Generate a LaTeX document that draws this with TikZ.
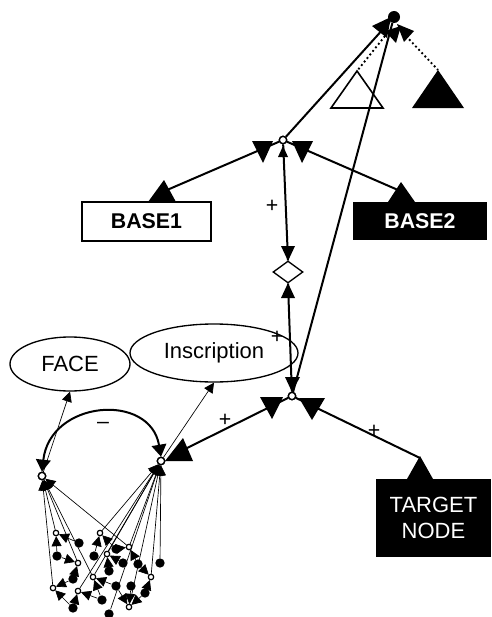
\documentclass[tikz,border=0pt]{standalone}
\usepackage{fontspec}
\setmainfont{Liberation Sans}
\usetikzlibrary{arrows.meta,shapes.geometric}
\begin{document}
\begin{tikzpicture}[x=0.75pt,y=-0.75pt,
  thickline/.style={line width=1.5pt},
  thinline/.style={line width=0.5pt},
  onode/.style={circle,draw,fill=white,line width=1pt,inner sep=0pt,minimum size=5.5pt},
  conode/.style={circle,draw,fill=white,line width=0.8pt,inner sep=0pt,minimum size=4pt},
  fnode/.style={circle,fill=black,inner sep=0pt,minimum size=7pt},
  sarr/.style={thinline,-{Triangle[length=7.5pt,width=7.5pt]}},
  lbl/.style={font=\fontsize{16}{18}\selectfont,inner sep=0pt},
  txt/.style={font=\fontsize{16.5}{20}\selectfont},
  btxt/.style={font=\bfseries\fontsize{16}{19}\selectfont},
]
\useasboundingbox (0,0) rectangle (492,617);

% main nodes
\node[circle,fill=black,inner sep=0pt,minimum size=9pt] (T) at (394,17) {};
\node[onode] (M) at (283,140) {};
\node[onode] (L) at (292,396) {};
\node[diamond,draw,fill=white,line width=1pt,inner sep=0pt,minimum width=22.5pt,minimum height=16.5pt] (D) at (288,272) {};
\node[draw,line width=1.2pt,minimum width=96.75pt,minimum height=29.25pt,btxt] (B1) at (146.5,221.5) {BASE1};
\node[fill=black,text=white,minimum width=100.5pt,minimum height=28.5pt,btxt] (B2) at (420,221) {BASE2};
\node[fill=black,text=white,minimum width=86.25pt,minimum height=58.5pt,align=center,txt] (TN) at (433.5,518) {TARGET\\NODE};
\node[ellipse,draw,line width=1pt,minimum width=90pt,minimum height=40.5pt,txt,inner sep=0pt] (F) at (70,364) {FACE};
\node[ellipse,draw,line width=1pt,minimum width=126pt,minimum height=43.5pt,txt,inner sep=0pt] (I) at (214,353) {Inscription};
\node[onode] (N1) at (42,476) {};
\node[onode] (N2) at (161,461) {};

% tips
\coordinate (OT) at (357,71);
\coordinate (FT) at (438,70);
\coordinate (b1tip) at (167,190);
\coordinate (b2tip) at (398,190);
\coordinate (tntip) at (420,458);
\coordinate (n2tip) at (185,449);
\coordinate (Tl) at (385,36);
\coordinate (Tr) at (406,36);

% triangles (open and filled)
\draw[line width=1.2pt] (OT) -- (331,108) -- (383,108) -- cycle;
\fill (FT) -- (412,108) -- (464,108) -- cycle;

% connectors
\draw[dotted,line width=1.4pt] (Tl) -- (OT);
\draw[dotted,line width=1.4pt] (Tr) -- (FT);
\draw[thickline] (M) -- (T);
\draw[thickline] (L) -- (T);
\draw[thickline] (M) -- (b1tip);
\draw[thickline] (M) -- (b2tip);
\draw[thickline] (M) -- (D.north);
\draw[thickline] (D.south) -- (L);
\draw[thickline] (L) -- (tntip);
\draw[thickline] (L) -- (n2tip);

% arc between N1 and N2
\draw[thickline,{Triangle[length=9pt,width=11pt]}-{Triangle[length=9pt,width=11pt]}]
  (N1.north) .. controls (50,400) and (150,392) .. (N2.north);
\draw[sarr] (N1) -- (F.south);
\draw[sarr] (N2) -- (I.south);

% big arrowheads
\fill (372,26) -- (391,17) -- (387,38) -- cycle;
\fill (385,31) -- (401,26) -- (396,43) -- cycle;
\fill (397,24) -- (414,31) -- (404,42) -- cycle;
\fill (252,141) -- (273,141) -- (263,163) -- cycle;
\fill (292,141) -- (313,141) -- (302,163) -- cycle;
\fill (283,146) -- (278,157) -- (288,157) -- cycle;
\fill (164,180) -- (148,202) -- (176,202) -- cycle;
\fill (401,182) -- (388,202) -- (415,202) -- cycle;
\fill (281,246) -- (295,246) -- (288,261) -- cycle;
\fill (288,283) -- (281,298) -- (295,298) -- cycle;
\fill (285,377) -- (300,377) -- (292,392) -- cycle;
\fill (260,397) -- (283,397) -- (272,419) -- cycle;
\fill (299,398) -- (325,398) -- (312,420) -- cycle;
\fill (420,456) -- (407,479) -- (433,479) -- cycle;
\fill (165,461) -- (183,438) -- (193,461) -- cycle;

% labels
\node[lbl] (p1) at (272,206) {+};
\node[lbl] (p2) at (277,337) {+};
\node[lbl] (p3) at (225,420) {+};
\node[lbl] (p4) at (374,431) {+};
\node[lbl] (m1) at (103,425) {–};

% cluster nodes
\node[conode] (a) at (56,533) {};
\node[conode] (b) at (100,533) {};
\node[conode] (c) at (78,563) {};
\node[conode] (d) at (107,554) {};
\node[conode] (e) at (129,547) {};
\node[conode] (f) at (93,577) {};
\node[conode] (g) at (151,577) {};
\node[conode] (h) at (53,588) {};
\node[conode] (i) at (78,591) {};
\node[conode] (j) at (129,607) {};
\node[fnode] (F1) at (79,543) {};
\node[fnode] (F2) at (57,556) {};
\node[fnode] (F3) at (94,556) {};
\node[fnode] (F4) at (116,549) {};
\node[fnode] (F5) at (123,563) {};
\node[fnode] (F6) at (138,564) {};
\node[fnode] (F7) at (160,563) {};
\node[fnode] (F8) at (109,571) {};
\node[fnode] (F9) at (73,579) {};
\node[fnode] (F10) at (116,586) {};
\node[fnode] (F11) at (131,586) {};
\node[fnode] (F12) at (145,593) {};
\node[fnode] (F13) at (102,600) {};
\node[fnode] (F14) at (73,608) {};
\node[fnode] (F15) at (109,614) {};

% fan lines
\foreach \t in {h,a,c,f,e} \draw[sarr] (\t) -- (N1);
\foreach \t in {b,d,f,i,e,j,g,F7,F15} \draw[sarr] (\t) -- (N2);

% cluster edges
\foreach \s/\t in {F1/a,F2/a,F9/c,F2/c,F3/b,F4/b,F8/d,F5/d,F6/e,F4/e,F13/f,F10/f,F12/g,F6/g,F9/h,F14/h,F14/i,F13/i,F10/j,F11/j,F12/j}
  \draw[sarr] (\s) -- (\t);

% redraw small nodes on top
\foreach \p in {(56,533),(100,533),(78,563),(107,554),(129,547),(93,577),(151,577),(53,588),(78,591),(129,607)}
  \node[conode] at \p {};
\node[onode] at (42,476) {};
\node[onode] at (161,461) {};
\node[onode] at (283,140) {};
\node[onode] at (292,396) {};
\end{tikzpicture}
\end{document}
